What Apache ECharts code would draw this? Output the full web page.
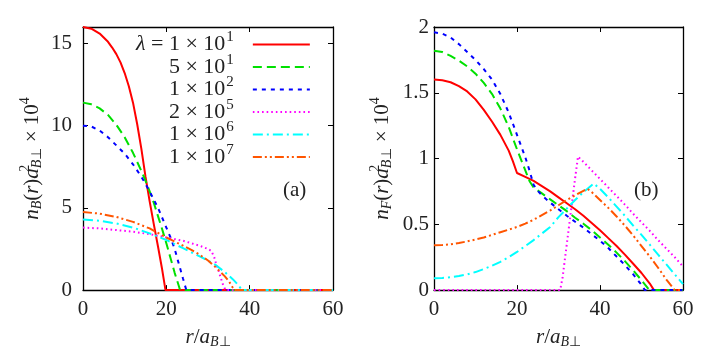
<!DOCTYPE html>
<html><head><meta charset="utf-8">
<script src="https://cdn.jsdelivr.net/npm/echarts@6/dist/echarts.min.js"></script>
<style>html,body{margin:0;padding:0;background:#fff}#c{width:722px;height:354px}</style>
</head><body><div id="c"></div>
<script>
// ---- legend names ----
const names = ['λ = 1 × 10^1', '5 × 10^1', '1 × 10^2', '2 × 10^5', '1 × 10^6', '1 × 10^7'];

// ---- tick values ----
const xTicks = [0, 20, 40, 60];
const yTicksB = [0, 5, 10, 15];
const yTicksF = [0, 0.5, 1, 1.5, 2];

// ---- panel (a): n_B(r) ----
const rB1 = [0,2,4,6,7,8,9,10,11,12,13,14,15,16,17,18,19,19.8,60];
const nB1 = [16.0,15.9,15.6,15.1,14.75,14.35,13.85,13.2,12.4,11.4,10.1,8.6,6.9,5.4,4.0,2.65,1.25,0,0];
const rB2 = [0,2,4,6,8,10,12,14,15,16,17,18,19,20,21,22,23,23.3,60];
const nB2 = [11.4,11.3,11.05,10.65,10.05,9.3,8.35,7.25,6.65,6.0,5.3,4.5,3.7,2.85,1.95,1.05,0.25,0,0];
const rB3 = [0,2,4,6,8,10,12,14,15,16,17,18,19,20,21,22,23,24,24.8,60];
const nB3 = [10.0,9.95,9.7,9.3,8.8,8.3,7.65,6.9,6.45,6.0,5.5,5.0,4.4,3.8,3.2,2.5,1.6,0.7,0,0];
const rB4 = [0,4,8,12,16,20,22,24,26,28,30,30.8,31.5,32,32.5,33,33.5,34.2,60];
const nB4 = [3.8,3.75,3.65,3.55,3.4,3.2,3.1,3.0,2.85,2.7,2.5,2.38,2.0,1.55,1.2,0.8,0.4,0,0];
const rB5 = [0,4,8,12,16,20,22,24,26,28,30,32,34,36,37,38.2,60];
const nB5 = [4.3,4.22,4.05,3.8,3.45,3.05,2.8,2.55,2.3,2.05,1.8,1.5,1.1,0.65,0.38,0,0];
const rB6 = [0,4,8,12,16,20,22,24,26,28,30,32,34,35,36.3,60];
const nB6 = [4.75,4.65,4.45,4.15,3.75,3.2,2.95,2.7,2.45,2.15,1.8,1.35,0.85,0.55,0,0];

// ---- panel (b): n_F(r) ----
const rF1 = [0,2,4,6,8,10,12,14,16,18,19,20,22,24,26,28,30,32,34,36,38,40,42,44,46,48,50,52,53,60];
const nF1 = [1.6,1.595,1.58,1.55,1.51,1.45,1.37,1.28,1.18,1.06,0.98,0.89,0.86,0.83,0.79,0.75,0.705,0.66,0.615,0.565,0.51,0.455,0.395,0.335,0.27,0.2,0.13,0.05,0,0];
const rF2 = [0,2,4,6,8,10,12,14,16,18,20,22,23,24,26,28,30,32,34,36,38,40,42,44,46,48,50,51.9,60];
const nF2 = [1.82,1.81,1.78,1.745,1.70,1.645,1.575,1.49,1.38,1.24,1.07,0.91,0.83,0.78,0.735,0.69,0.645,0.60,0.55,0.505,0.455,0.40,0.345,0.285,0.22,0.15,0.075,0,0];
const rF3 = [0,2,4,6,8,10,12,14,16,18,20,22,23,24,25,26,28,30,32,34,36,38,40,42,44,46,48,50,50.8,60];
const nF3 = [1.96,1.95,1.92,1.87,1.81,1.75,1.68,1.60,1.49,1.35,1.18,1.01,0.91,0.80,0.755,0.72,0.665,0.615,0.565,0.52,0.475,0.425,0.375,0.32,0.255,0.19,0.12,0.04,0,0];
const rF4 = [0,30.4,31,32,33,34,34.7,36,38,40,42,44,46,48,50,52,54,56,58,60];
const nF4 = [0,0,0.1,0.35,0.6,0.85,1.015,0.975,0.91,0.845,0.78,0.715,0.65,0.58,0.515,0.45,0.38,0.315,0.25,0.18];
const rF5 = [0,2,4,6,8,10,12,14,16,18,20,22,24,26,28,30,32,34,36,38.5,40,42,44,46,48,50,52,54,56,58,60];
const nF5 = [0.09,0.092,0.098,0.107,0.12,0.137,0.16,0.185,0.215,0.25,0.29,0.335,0.38,0.43,0.48,0.555,0.62,0.685,0.745,0.81,0.77,0.705,0.635,0.565,0.49,0.42,0.345,0.27,0.195,0.12,0.045];
const rF6 = [0,2,4,6,8,10,12,14,16,18,20,22,24,26,28,30,32,34,36,37,38,40,42,44,46,48,50,52,54,56,58,60];
const nF6 = [0.34,0.342,0.348,0.358,0.37,0.385,0.40,0.42,0.44,0.46,0.48,0.505,0.535,0.57,0.605,0.645,0.685,0.72,0.755,0.77,0.745,0.685,0.625,0.56,0.49,0.415,0.335,0.255,0.17,0.08,0,0];

// ---- styles ----
const colors = ['#ff0000', '#00e000', '#0000ff', '#ff00ff', '#00ffff', '#ff5500'];
const dashes = ['solid', [9,5], [4,5], [1.6,3], [10,4,2,4], [9,3,2,3,2,3]];
const F = 'Liberation Serif';
const TC = '#222';

const chart = echarts.init(document.getElementById('c'), null, {renderer: 'canvas'});

const rich = {
  i: {fontFamily: F, fontStyle: 'italic', fontSize: 21, lineHeight: 30, color: TC},
  n: {fontFamily: F, fontSize: 21, lineHeight: 30, color: TC},
  subi: {fontFamily: F, fontStyle: 'italic', fontSize: 14, lineHeight: 14, padding: [10,0,0,0], color: TC},
  sub: {fontFamily: F, fontSize: 14, lineHeight: 14, padding: [10,0,0,0], color: TC},
  sup: {fontFamily: F, fontSize: 14, lineHeight: 14, padding: [0,0,14,0], color: TC},
  sup0: {fontFamily: F, fontSize: 14, lineHeight: 14, padding: [0,0,14,0], width: 0, color: TC}
};

function mk(k, xi, yi, rs, vs) {
  return {
    type: 'line', name: names[k], xAxisIndex: xi, yAxisIndex: yi,
    data: rs.map((r, i) => [r, vs[i]]),
    symbol: 'none', showSymbol: false, animation: false,
    lineStyle: {color: colors[k], width: 2, type: dashes[k]},
    itemStyle: {color: colors[k]},
    z: 2 + k
  };
}

const tickStyle = {show: true, inside: true, length: 5, lineStyle: {color: '#000', width: 1}};
const lineStyle = {show: true, onZero: false, lineStyle: {color: '#000', width: 1.3}};

function xAx(grid, pos, labels, withName) {
  return {
    type: 'value', gridIndex: grid, position: pos, min: 0, max: 60, interval: 20,
    axisLine: lineStyle, axisTick: tickStyle, splitLine: {show: false},
    axisLabel: {show: labels, margin: 9, fontFamily: F, fontSize: 21, color: TC},
    name: withName ? '{i|r}{n|/}{i|a}{subi|B}{sub|⊥}' : '',
    nameLocation: 'middle', nameGap: 22,
    nameTextStyle: {rich: rich}
  };
}
function yAx(grid, pos, labels, max, interval, margin, nameStr, gap) {
  return {
    type: 'value', gridIndex: grid, position: pos, min: 0, max: max, interval: interval,
    axisLine: lineStyle, axisTick: tickStyle, splitLine: {show: false},
    axisLabel: {show: labels, margin: margin, fontFamily: F, fontSize: 21, color: TC, showMaxLabel: interval === 5 ? false : true,
      formatter: v => (v === 16 ? '' : String(v))},
    name: nameStr || '', nameLocation: 'middle', nameRotate: 90, nameGap: gap || 0,
    nameTextStyle: {rich: rich}
  };
}

const option = {
  backgroundColor: '#fff',
  animation: false,
  grid: [
    {left: 83, top: 27, width: 250, height: 275, containLabel: false},
    {left: 434, top: 27, width: 249, height: 275, containLabel: false}
  ],
  xAxis: [xAx(0, 'bottom', true, true), xAx(0, 'top', false, false), xAx(1, 'bottom', true, true), xAx(1, 'top', false, false)],
  yAxis: [
    yAx(0, 'left', true, 16, 5, 11, '{i|n}{subi|B}{n|(}{i|r}{n|)}{i|a}{sup0|2}{subi|B}{sub|⊥}{n| × 10}{sup|4}', 36),
    yAx(0, 'right', false, 16, 5, 0, '', 0),
    yAx(1, 'left', true, 2, 0.5, 5, '{i|n}{subi|F}{n|(}{i|r}{n|)}{i|a}{sup0|2}{subi|B}{sub|⊥}{n| × 10}{sup|4}', 37),
    yAx(1, 'right', false, 2, 0.5, 0, '', 0)
  ],
  legend: {
    data: names, orient: 'vertical', align: 'right', left: 136, top: 30, padding: 0,
    itemWidth: 57, itemHeight: 14, itemGap: -6.5, selectedMode: false,
    itemStyle: {opacity: 0, borderWidth: 0},
    textStyle: {fontFamily: F, fontSize: 22, lineHeight: 21, color: TC, padding: [0,14,0,0],
      rich: {
        it: {fontFamily: F, fontStyle: 'italic', fontSize: 22, lineHeight: 21, color: TC},
        sup: {fontFamily: F, fontSize: 15, lineHeight: 14, padding: [0,0,14,1], color: TC}
      }},
    formatter: function (name) {
      const m = name.match(/^(.*)10\^(\d)$/);
      return m[1].replace('λ', '{it|λ}') + '10{sup|' + m[2] + '}';
    }
  },
  graphic: [
    {type: 'text', left: 283, top: 180, style: {text: '(a)', font: '21px "Liberation Serif"', fill: TC}},
    {type: 'text', left: 634, top: 180, style: {text: '(b)', font: '21px "Liberation Serif"', fill: TC}}
  ],
  series: [
    mk(0, 0, 0, rB1, nB1), mk(1, 0, 0, rB2, nB2), mk(2, 0, 0, rB3, nB3),
    mk(3, 0, 0, rB4, nB4), mk(4, 0, 0, rB5, nB5), mk(5, 0, 0, rB6, nB6),
    mk(0, 2, 2, rF1, nF1), mk(1, 2, 2, rF2, nF2), mk(2, 2, 2, rF3, nF3),
    mk(3, 2, 2, rF4, nF4), mk(4, 2, 2, rF5, nF5), mk(5, 2, 2, rF6, nF6)
  ]
};
chart.setOption(option);
</script></body></html>
